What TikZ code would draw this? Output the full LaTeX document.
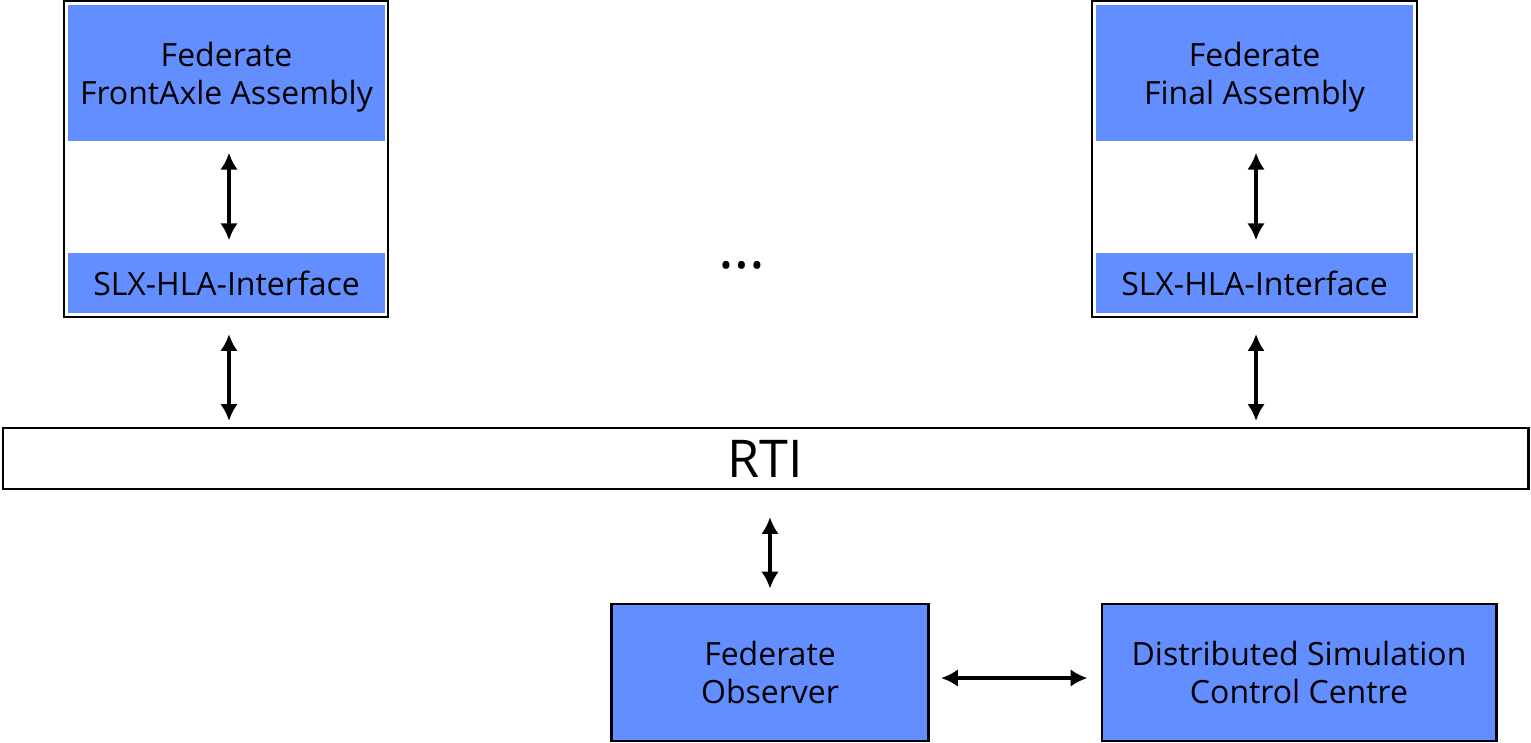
\documentclass[tikz,border=0pt]{standalone}
\usepackage{fontspec}
\setmainfont{Open Sans}
\usetikzlibrary{arrows.meta, positioning}
\definecolor{fedblue}{RGB}{98,142,255}

\begin{document}
\begin{tikzpicture}[
  x=0.01cm, y=-0.01cm,
  font=\fontsize{9.1}{10.8}\selectfont,
  frame/.style={draw, line width=.55pt, minimum width=3.24cm, minimum height=3.16cm, inner sep=0pt},
  fed/.style={fill=fedblue, align=center, inner sep=0pt, text depth=0pt, minimum width=3.17cm},
  obs/.style={fed, draw, line width=.8pt, minimum height=1.37cm},
  link/.style={{Latex[length=4.8pt,width=5pt]}-{Latex[length=4.8pt,width=5pt]}, line width=1pt}]

  \useasboundingbox (0,0) rectangle (1531,742);

  % left federate
  \node[frame] (lframe) at (226,159) {};
  \node[fed, minimum height=1.36cm] (lmodel) at (226.5,73) {Federate\\FrontAxle Assembly};
  \node[fed, minimum height=.6cm] (lslx) at (226.5,283) {SLX-HLA-Interface};

  % right federate
  \node[frame] (rframe) at (1254.5,159) {};
  \node[fed, minimum height=1.36cm] (rmodel) at (1254.5,73) {Federate\\Final Assembly};
  \node[fed, minimum height=.6cm] (rslx) at (1254.5,283) {SLX-HLA-Interface};

  \node[font=\fontsize{17}{19}\selectfont] (dots) at (742,265) {\dots};

  % runtime infrastructure
  \node[draw, line width=.6pt, minimum width=15.25cm, minimum height=.61cm,
        font=\fontsize{14.8}{16}\selectfont] (rti) at (765.5,458.5) {RTI};

  % observer side
  \node[obs] (obs) at (770,672.5) {Federate\\Observer};
  \node[obs, minimum width=3.94cm] (dscc) at (1299,672.5) {Distributed Simulation\\Control Centre};

  \draw[link, shorten <=.11cm, shorten >=.12cm] ([xshift=.025cm]lmodel.south) -- ([xshift=.025cm]lslx.north);
  \draw[link, shorten <=.11cm, shorten >=.12cm] ([xshift=.015cm]rmodel.south) -- ([xshift=.015cm]rslx.north);
  \draw[link, shorten <=.16cm, shorten >=.06cm] ([xshift=.03cm]lframe.south) -- ([xshift=.03cm]lframe.south |- rti.north);
  \draw[link, shorten <=.16cm, shorten >=.06cm] ([xshift=.015cm]rframe.south) -- ([xshift=.015cm]rframe.south |- rti.north);
  \draw[link, shorten <=.27cm, shorten >=.14cm] (obs.north |- rti.south) -- (obs.north);
  \draw[link, shorten <=.11cm, shorten >=.13cm] ([yshift=-.055cm]obs.east) -- ([yshift=-.055cm]dscc.west);
\end{tikzpicture}
\end{document}
